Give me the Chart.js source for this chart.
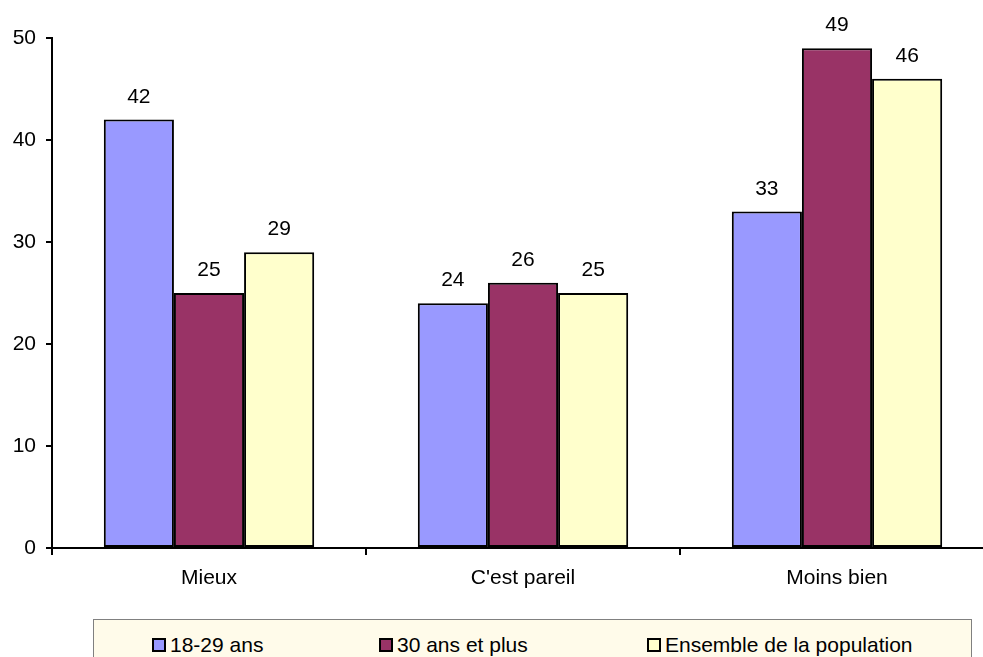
<!DOCTYPE html>
<html>
<head>
<meta charset="utf-8">
<script src="https://cdn.jsdelivr.net/npm/chart.js@4/dist/chart.umd.min.js"></script>
<style>
  html, body { margin: 0; padding: 0; background: #fff; overflow: hidden; width: 983px; height: 657px; }
  #wrap { position: absolute; left: 0; top: 0; width: 995px; height: 657px; }
  #legend { position: absolute; left: 93px; top: 619px; width: 879px; height: 60px; background: #FFFBEA; border: 1px solid #808080; box-sizing: border-box; font-family: "Liberation Sans", Arial, sans-serif; font-size: 21px; color: #000; }
  .item { position: absolute; top: 13px; white-space: nowrap; line-height: 23px; }
  .box { display: inline-block; width: 10px; height: 10px; border: 2px solid #000; vertical-align: 0px; margin-right: 4px; }
</style>
</head>
<body>
<div id="wrap"><canvas id="c"></canvas></div>
<div id="legend"></div>
<script>
const categories = ["Mieux", "C'est pareil", "Moins bien"];
const seriesNames = ["18-29 ans", "30 ans et plus", "Ensemble de la population"];
const values1829 = [42, 24, 33];
const values30plus = [25, 26, 49];
const valuesEnsemble = [29, 25, 46];
const yTicks = [0, 10, 20, 30, 40, 50];
const colors = ["#9999FF", "#993366", "#FFFFCC"];

const FONT = '"Liberation Sans", Arial, sans-serif';

const dataLabels = {
  id: 'dataLabels',
  afterDatasetsDraw(chart) {
    const ctx = chart.ctx;
    ctx.save();
    ctx.font = '21px ' + FONT;
    ctx.fillStyle = '#000';
    ctx.textAlign = 'center';
    ctx.textBaseline = 'bottom';
    chart.data.datasets.forEach((ds, i) => {
      chart.getDatasetMeta(i).data.forEach((bar, j) => {
        ctx.fillText(String(ds.data[j]), bar.x, bar.y - 12);
      });
    });
    ctx.restore();
  }
};

const chart = new Chart(document.getElementById('c'), {
  type: 'bar',
  data: {
    labels: categories,
    datasets: [values1829, values30plus, valuesEnsemble].map((d, i) => ({
      label: seriesNames[i],
      data: d,
      backgroundColor: colors[i],
      borderColor: '#000',
      borderWidth: 2,
      borderSkipped: false,
      categoryPercentage: 0.67,
      barPercentage: 1.0
    }))
  },
  options: {
    responsive: true,
    maintainAspectRatio: false,
    animation: false,
    layout: { padding: { top: 38, right: 1, left: 0, bottom: 0 } },
    plugins: { legend: { display: false }, tooltip: { enabled: false } },
    scales: {
      x: {
        grid: { display: true, drawOnChartArea: false, drawTicks: true, tickLength: 7, color: '#000', lineWidth: 2, offset: true },
        border: { display: true, color: '#000', width: 2 },
        ticks: { color: '#000', font: { family: FONT, size: 21 }, padding: 11, maxRotation: 0 },
        afterFit(scale) { scale.height = 109; }
      },
      y: {
        min: 0, max: 50,
        afterBuildTicks(scale) { scale.ticks = yTicks.map(v => ({ value: v })); },
        grid: { display: true, drawOnChartArea: false, drawTicks: true, tickLength: 6, color: '#000', lineWidth: 2 },
        border: { display: true, color: '#000', width: 2 },
        ticks: { color: '#000', font: { family: FONT, size: 21 }, padding: 10 },
        afterFit(scale) { scale.width = 52; }
      }
    }
  },
  plugins: [dataLabels]
});

const legendPos = [152, 379, 647];
const legend = document.getElementById('legend');
seriesNames.forEach((name, i) => {
  const it = document.createElement('div');
  it.className = 'item';
  it.style.left = (legendPos[i] - 94) + 'px';
  const b = document.createElement('span');
  b.className = 'box';
  b.style.background = colors[i];
  it.appendChild(b);
  it.appendChild(document.createTextNode(name));
  legend.appendChild(it);
});
</script>
</body>
</html>
